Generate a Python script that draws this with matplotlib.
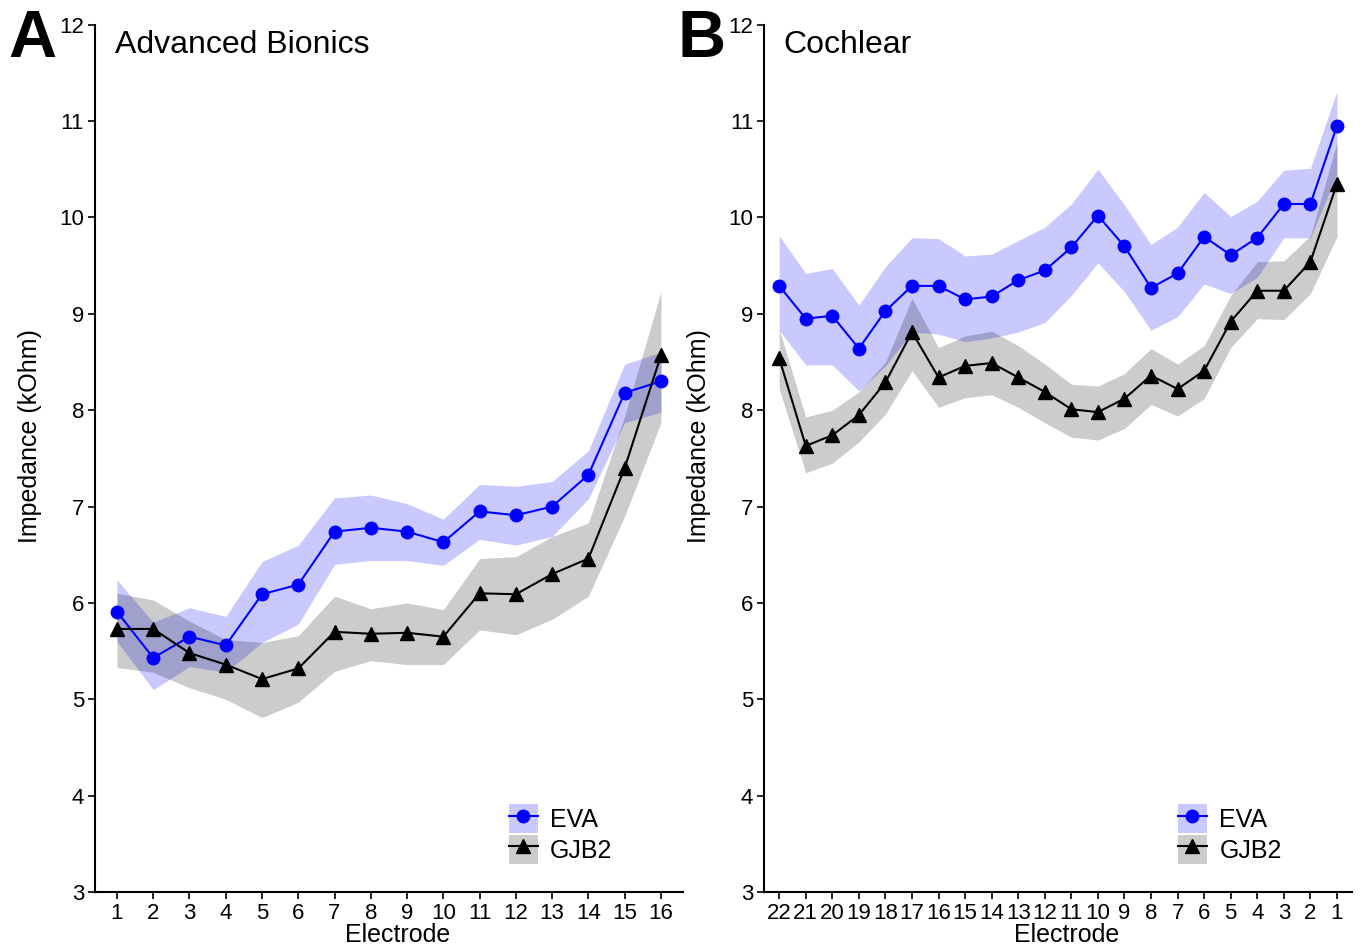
import numpy as np
import matplotlib
matplotlib.use('Agg')
import matplotlib.pyplot as plt
from matplotlib.patches import Patch
from matplotlib.lines import Line2D

plt.rcParams['font.family'] = ['Liberation Sans', 'DejaVu Sans']

# Panel A: Advanced Bionics, electrodes 1..16
ab_electrodes = [str(i) for i in range(1, 17)]
ab_eva = [5.91, 5.43, 5.65, 5.56, 6.09, 6.19, 6.74, 6.78, 6.74, 6.63, 6.95, 6.91, 7.00, 7.33, 8.18, 8.30]
ab_eva_hi = [6.24, 5.80, 5.95, 5.86, 6.43, 6.60, 7.09, 7.12, 7.03, 6.87, 7.23, 7.21, 7.26, 7.58, 8.48, 8.60]
ab_eva_lo = [5.60, 5.10, 5.34, 5.28, 5.59, 5.78, 6.40, 6.44, 6.44, 6.39, 6.66, 6.60, 6.69, 7.08, 7.87, 7.98]
ab_gjb2 = [5.73, 5.73, 5.48, 5.36, 5.21, 5.32, 5.70, 5.68, 5.69, 5.65, 6.10, 6.09, 6.30, 6.46, 7.40, 8.57]
ab_gjb2_hi = [6.10, 6.03, 5.81, 5.62, 5.59, 5.66, 6.07, 5.94, 6.00, 5.93, 6.46, 6.48, 6.69, 6.83, 7.94, 9.23]
ab_gjb2_lo = [5.33, 5.28, 5.12, 5.00, 4.81, 4.97, 5.29, 5.40, 5.36, 5.36, 5.72, 5.67, 5.83, 6.07, 6.90, 7.87]

# Panel B: Cochlear, electrodes 22..1
co_electrodes = [str(i) for i in range(22, 0, -1)]
co_eva = [9.29, 8.95, 8.98, 8.64, 9.03, 9.29, 9.29, 9.15, 9.18, 9.35, 9.45,
          9.69, 10.02, 9.70, 9.27, 9.42, 9.80, 9.61, 9.79, 10.14, 10.14, 10.95]
co_eva_hi = [9.81, 9.42, 9.47, 9.09, 9.49, 9.79, 9.78, 9.60, 9.62, 9.76, 9.90,
             10.14, 10.50, 10.13, 9.72, 9.90, 10.26, 10.01, 10.17, 10.49, 10.51, 11.31]
co_eva_lo = [8.83, 8.47, 8.47, 8.20, 8.46, 8.81, 8.79, 8.71, 8.75, 8.81, 8.91,
             9.19, 9.53, 9.23, 8.83, 8.97, 9.31, 9.21, 9.38, 9.79, 9.79, 10.45]
co_gjb2 = [8.54, 7.63, 7.74, 7.95, 8.29, 8.81, 8.34, 8.46, 8.49, 8.34, 8.19,
           8.01, 7.98, 8.12, 8.36, 8.22, 8.41, 8.92, 9.24, 9.24, 9.54, 10.35]
co_gjb2_hi = [8.84, 7.93, 8.00, 8.19, 8.50, 9.16, 8.65, 8.77, 8.82, 8.67, 8.48,
              8.27, 8.25, 8.38, 8.64, 8.48, 8.67, 9.19, 9.54, 9.55, 9.81, 10.78]
co_gjb2_lo = [8.22, 7.35, 7.45, 7.67, 7.96, 8.41, 8.03, 8.13, 8.16, 8.03, 7.87,
              7.72, 7.69, 7.81, 8.06, 7.94, 8.12, 8.65, 8.95, 8.94, 9.21, 9.80]

blue = '#0000ff'
blue_fill = (0, 0, 1, 0.21)
grey_fill = (0, 0, 0, 0.20)

fig = plt.figure(figsize=(13.6, 9.52), dpi=100)
axA = fig.add_axes([0.070, 0.063, 0.432, 0.911])
axB = fig.add_axes([0.562, 0.063, 0.432, 0.911])


def draw_panel(ax, labels, eva, eva_lo, eva_hi, gj, gj_lo, gj_hi, title, pad):
    x = np.arange(len(labels))
    ax.fill_between(x, eva_lo, eva_hi, color=blue_fill, lw=0)
    ax.fill_between(x, gj_lo, gj_hi, color=grey_fill, lw=0)
    ax.plot(x, eva, color=blue, lw=1.5, marker='o', ms=9, zorder=3)
    ax.plot(x, gj, color='black', lw=1.5, marker='^', ms=10.5, zorder=3)
    ax.set_xlim(-pad, len(labels) - 1 + pad)
    ax.set_ylim(3, 12)
    ax.set_xticks(x)
    ax.set_xticklabels(labels)
    ax.set_yticks(range(3, 13))
    for s in ['top', 'right']:
        ax.spines[s].set_visible(False)
    ax.spines['left'].set_linewidth(1.5)
    ax.spines['bottom'].set_linewidth(1.5)
    ax.tick_params(labelsize=16, width=1.2, length=5, pad=3)
    ax.set_xlabel('Electrode', fontsize=18)
    ax.set_ylabel('Impedance (kOhm)', fontsize=18)
    ax.xaxis.set_label_coords(0.515, -0.036)
    ax.yaxis.set_label_coords(-0.090, 0.526)
    ax.text(0.033, 0.994, title, transform=ax.transAxes, fontsize=23, va='top')

    h_eva = (Patch(facecolor=blue_fill, edgecolor='none'),
             Line2D([], [], color=blue, lw=1.5, marker='o', ms=9))
    h_gj = (Patch(facecolor=grey_fill, edgecolor='none'),
            Line2D([], [], color='black', lw=1.5, marker='^', ms=10.5))
    ax.legend([h_eva, h_gj], ['EVA', 'GJB2'], loc='lower left',
              bbox_to_anchor=(0.683, 0.018), frameon=False, fontsize=18,
              handlelength=1.15, handleheight=1.4, labelspacing=0.08,
              handletextpad=0.5, borderpad=0)


draw_panel(axA, ab_electrodes, ab_eva, ab_eva_lo, ab_eva_hi,
           ab_gjb2, ab_gjb2_lo, ab_gjb2_hi, 'Advanced Bionics', 0.6)
draw_panel(axB, co_electrodes, co_eva, co_eva_lo, co_eva_hi,
           co_gjb2, co_gjb2_lo, co_gjb2_hi, 'Cochlear', 0.56)

fig.text(0.006, 0.991, 'A', fontsize=48, fontweight='bold', va='top')
fig.text(0.498, 0.991, 'B', fontsize=48, fontweight='bold', va='top')

fig.savefig('out.png', dpi=100)
